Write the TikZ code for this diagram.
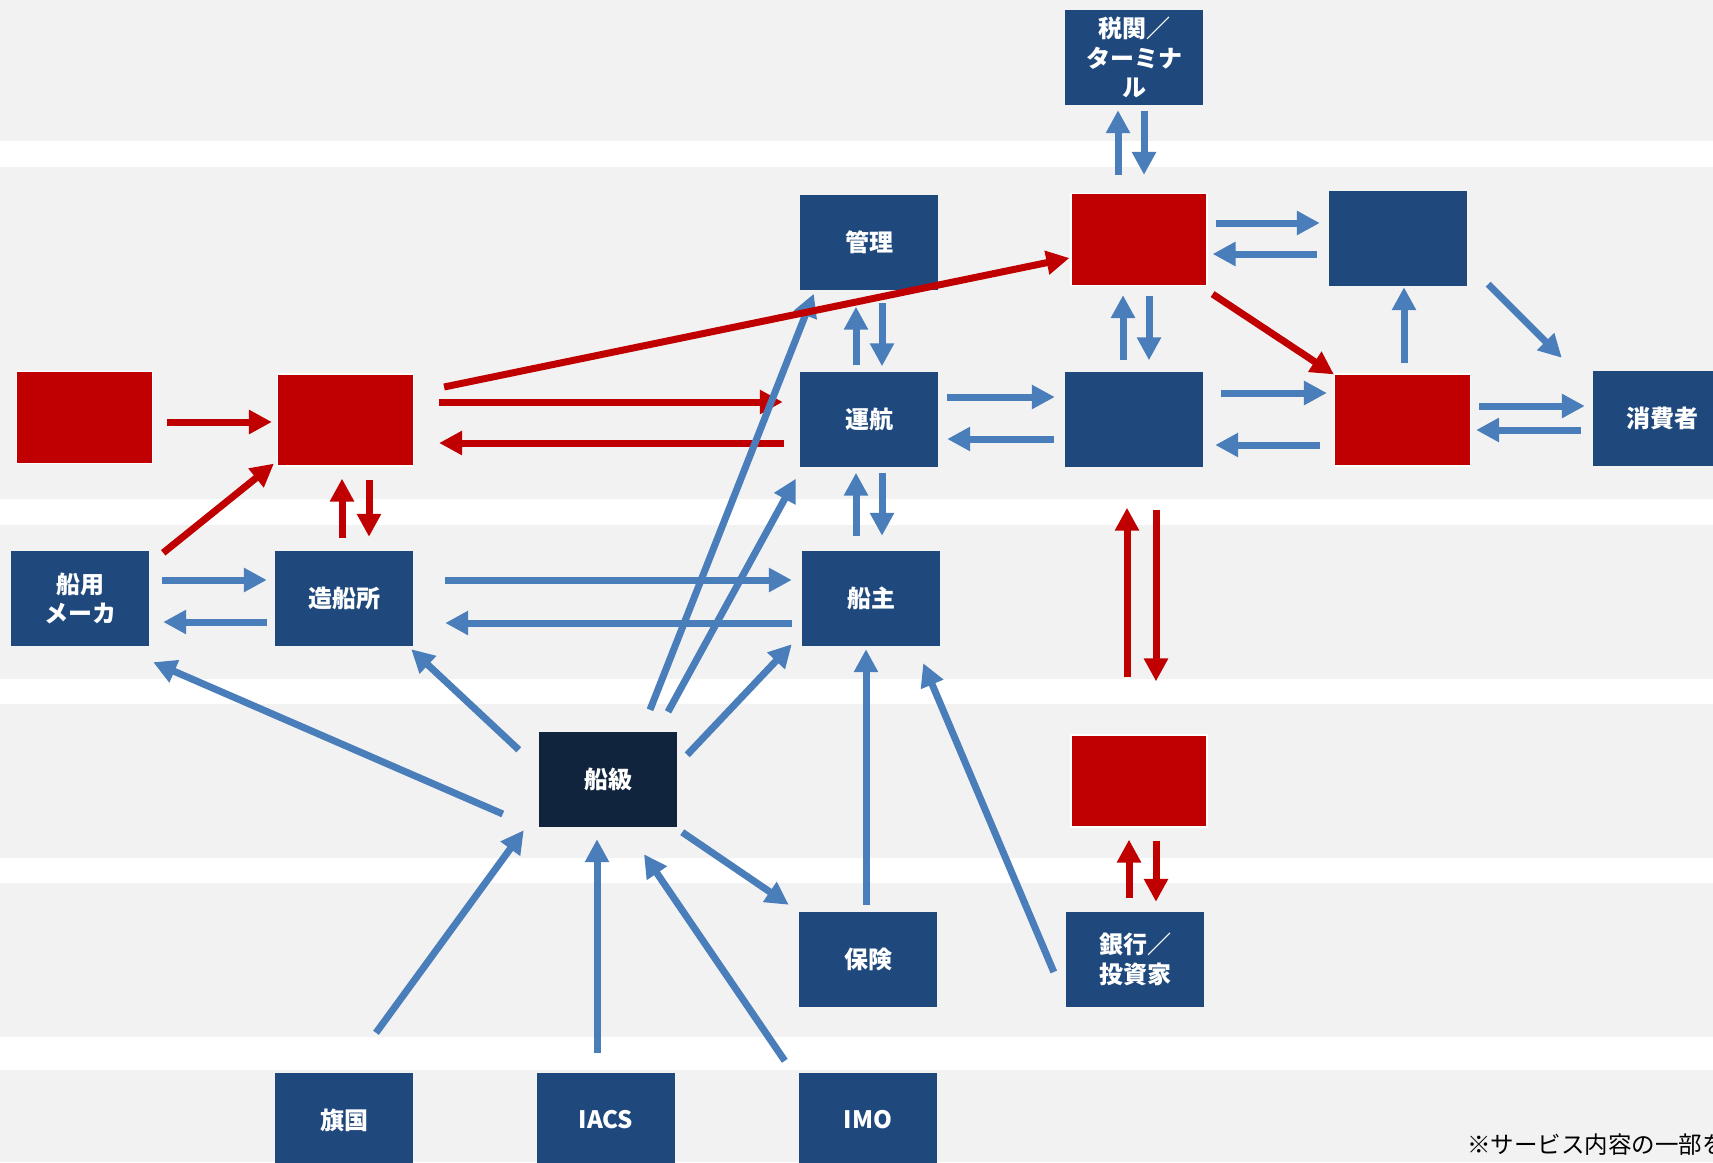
\documentclass[tikz,border=0pt]{standalone}
\usepackage{fontspec}
\newfontfamily\jpfont{Noto Sans CJK JP}
\usetikzlibrary{arrows.meta}
\definecolor{boxblue}{RGB}{31,73,125}
\definecolor{navy}{RGB}{16,36,62}
\definecolor{boxred}{RGB}{192,0,0}
\definecolor{arrblue}{RGB}{74,126,187}
\definecolor{bggray}{RGB}{242,242,242}

\begin{document}
\begin{tikzpicture}[x=1pt,y=-1pt,
    box/.style={fill=boxblue,minimum width=138pt,minimum height=95pt,inner sep=0pt,
      text=white,align=center,font=\jpfont\bfseries\fontsize{24}{29.5}\selectfont},
    redbox/.style={box,fill=boxred,draw=white,line width=1.2pt,minimum width=136pt,minimum height=92pt},
    barr/.style={draw=arrblue,line width=7pt,-{Triangle[width=23pt,length=23pt]}},
    rarr/.style={draw=boxred,line width=7pt,-{Triangle[width=23pt,length=23pt]}}]
  \useasboundingbox (0,0) rectangle (1713,1162);
  \fill[bggray] (0,0) rectangle (1713,1162);
  \foreach \ya/\yb in {141/167,499/525,679/704,858/883,1037/1070}
    \fill[white] (0,\ya) rectangle (1713,\yb);

  \node[box] (kanzei) at (1134,57.5) {税関／\\ターミナ\\ル};
  \node[box] (kanri) at (869,242) {管理};
  \node[box] (unkou) at (869,419) {運航};
  \node[box] (senshu) at (871,598.5) {船主};
  \node[box] (hoken) at (868,959.5) {保険};
  \node[box] (imo) at (868,1120) {IMO};
  \node[box] (iacs) at (606,1120) {IACS};
  \node[box] (kikoku) at (344,1120) {旗国};
  \node[box,fill=navy] (senkyu) at (608,779.5) {船級};
  \node[box] (zousen) at (344,598.5) {造船所};
  \node[box] (hakuyo) at (80,598.5) {船用\\メーカ};
  \node[redbox] (redA) at (84.5,417.5) {};
  \node[redbox] (redB) at (345.5,420) {};
  \node[redbox] (redC) at (1139,239.5) {};
  \node[box] (blueTR) at (1398,238.5) {};
  \node[box] (blueM) at (1134,419) {};
  \node[redbox] (redD) at (1402.5,420) {};
  \node[box] (shouhi) at (1662,418.5) {消費者};
  \node[redbox] (redE) at (1139,781) {};
  \node[box] (ginkou) at (1135,959.5) {銀行／\\投資家};
  \node[anchor=west,inner sep=0pt,font=\jpfont\fontsize{23.5}{28}\selectfont] (note) at (1467,1145) {※サービス内容の一部を};

  \draw[rarr,shorten <=25pt,shorten >=17pt] ([yshift=18pt]redB.east) -- ([yshift=18pt]redB.east -| unkou.west);
  \draw[rarr,shorten <=16pt,shorten >=25pt] ([yshift=-24pt]unkou.west) -- ([yshift=-24pt]unkou.west -| redB.east);

  \draw[barr,shorten <=13pt,shorten >=8pt] ([yshift=18.5pt]hakuyo.east) -- ([yshift=18.5pt]hakuyo.east -| zousen.west);
  \draw[barr,shorten <=8pt,shorten >=14pt] ([yshift=-23.5pt]zousen.west) -- ([yshift=-23.5pt]zousen.west -| hakuyo.east);
  \draw[barr,shorten <=32pt,shorten >=10pt] ([yshift=18.5pt]zousen.east) -- ([yshift=18.5pt]zousen.east -| senshu.west);
  \draw[barr,shorten <=10pt,shorten >=32pt] ([yshift=-24.5pt]senshu.west) -- ([yshift=-24.5pt]senshu.west -| zousen.east);
  \draw[barr,shorten <=9pt,shorten >=10pt] ([yshift=22pt]unkou.east) -- ([yshift=22pt]unkou.east -| blueM.west);
  \draw[barr,shorten <=11pt,shorten >=9pt] ([yshift=-20pt]blueM.west) -- ([yshift=-20pt]blueM.west -| unkou.east);
  \draw[barr,shorten <=18pt,shorten >=7pt] ([yshift=26pt]blueM.east) -- ([yshift=26pt]blueM.east -| redD.west);
  \draw[barr,shorten <=14pt,shorten >=12pt] ([yshift=-25pt]redD.west) -- ([yshift=-25pt]redD.west -| blueM.east);
  \draw[barr,shorten <=8pt,shorten >=8pt] ([yshift=14pt]redD.east) -- ([yshift=14pt]redD.east -| shouhi.west);
  \draw[barr,shorten <=12pt,shorten >=5pt] ([yshift=-11.5pt]shouhi.west) -- ([yshift=-11.5pt]shouhi.west -| redD.east);
  \draw[barr,shorten <=8pt,shorten >=9pt] ([yshift=16.5pt]redC.east) -- ([yshift=16.5pt]redC.east -| blueTR.west);
  \draw[barr,shorten <=12pt,shorten >=5pt] ([yshift=-15.5pt]blueTR.west) -- ([yshift=-15.5pt]blueTR.west -| redC.east);

  \draw[barr,shorten <=18pt,shorten >=5pt] ([xshift=-16pt]kanzei.south |- redC.north) -- ([xshift=-16pt]kanzei.south);
  \draw[barr,shorten <=6pt,shorten >=18pt] ([xshift=10pt]kanzei.south) -- ([xshift=10pt]kanzei.south |- redC.north);
  \draw[barr,shorten <=6pt,shorten >=17pt] ([xshift=-13pt]kanri.south |- unkou.north) -- ([xshift=-13pt]kanri.south);
  \draw[barr,shorten <=13pt,shorten >=5pt] ([xshift=13pt]kanri.south) -- ([xshift=13pt]kanri.south |- unkou.north);
  \draw[barr,shorten <=15pt,shorten >=6pt] ([xshift=-13pt]unkou.south |- senshu.north) -- ([xshift=-13pt]unkou.south);
  \draw[barr,shorten <=6pt,shorten >=15pt] ([xshift=13pt]unkou.south) -- ([xshift=13pt]unkou.south |- senshu.north);
  \draw[barr,shorten <=11pt,shorten >=9pt] ([xshift=-11pt]blueM.north) -- ([xshift=-11pt]blueM.north |- redC.south);
  \draw[barr,shorten <=10pt,shorten >=11pt] ([xshift=15pt]blueM.north |- redC.south) -- ([xshift=15pt]blueM.north);
  \draw[barr,shorten <=10pt,shorten >=1pt] ([xshift=1.5pt]redD.north) -- ([xshift=1.5pt]redD.north |- blueTR.south);
  \draw[barr,shorten <=7pt,shorten >=3pt] ([xshift=-2pt]hoken.north) -- ([xshift=-2pt]hoken.north |- senshu.south);
  \draw[barr,shorten <=19.5pt,shorten >=12pt] ([xshift=-9pt]iacs.north) -- ([xshift=-9pt]iacs.north |- senkyu.south);

  \draw[barr] ([xshift=21pt,yshift=2pt]blueTR.south east) -- ([xshift=-31pt,yshift=13pt]shouhi.north west);
  \draw[barr] ([xshift=-20pt,yshift=-18pt]senkyu.north west) -- ([xshift=-2pt,yshift=-3pt]zousen.south east);
  \draw[barr] ([xshift=-36pt,yshift=-34.5pt]senkyu.west) -- ([xshift=4pt,yshift=-16pt]hakuyo.south east);
  \draw[barr] ([xshift=10pt,yshift=-23pt]senkyu.north east) -- ([xshift=-10pt,yshift=2pt]senshu.south west);
  \draw[barr] ([xshift=42pt,yshift=22pt]senkyu.north) -- ([xshift=14pt,yshift=-4pt]kanri.south west);
  \draw[barr] ([xshift=60pt,yshift=20pt]senkyu.north) -- ([xshift=-4pt,yshift=-12pt]unkou.south west);
  \draw[barr] ([xshift=5pt,yshift=-5pt]senkyu.south east) -- ([xshift=-10pt,yshift=7pt]hoken.north west);
  \draw[barr] ([xshift=32pt,yshift=39.5pt]kikoku.north) -- ([xshift=-15pt,yshift=-3pt]senkyu.south west);
  \draw[barr] ([xshift=-14pt,yshift=11.5pt]imo.north west) -- ([xshift=36pt,yshift=-27pt]senkyu.south);
  \draw[barr] ([xshift=-12pt,yshift=-12.5pt]ginkou.west) -- ([xshift=-17pt,yshift=-17pt]senshu.south east);

  \draw[rarr,shorten <=14pt,shorten >=5pt] ([yshift=-4.5pt]redA.east) -- ([yshift=-4.5pt]redA.east -| redB.west);
  \draw[rarr,shorten <=13pt,shorten >=12pt] ([xshift=-2pt]zousen.north) -- ([xshift=-2pt]zousen.north |- redB.south);
  \draw[rarr,shorten <=13pt,shorten >=14pt] ([xshift=25pt]zousen.north |- redB.south) -- ([xshift=25pt]zousen.north);
  \draw[rarr,shorten <=57pt,shorten >=41pt] ([xshift=-7pt]blueM.south |- redE.north) -- ([xshift=-7pt]blueM.south);
  \draw[rarr,shorten <=43pt,shorten >=53pt] ([xshift=22pt]blueM.south) -- ([xshift=22pt]blueM.south |- redE.north);
  \draw[rarr,shorten <=14pt,shorten >=12pt] ([xshift=-6pt]ginkou.north) -- ([xshift=-6pt]ginkou.north |- redE.south);
  \draw[rarr,shorten <=13pt,shorten >=10pt] ([xshift=21pt]ginkou.north |- redE.south) -- ([xshift=21pt]ginkou.north);
  \draw[rarr] ([xshift=14pt,yshift=-2pt]hakuyo.north east) -- ([xshift=-3pt,yshift=3pt]redB.south west);
  \draw[rarr] ([xshift=30pt,yshift=33pt]redB.east) -- ([xshift=-1pt,yshift=-18.5pt]redC.west);
  \draw[rarr] ([xshift=5pt,yshift=-8pt]redC.south east) -- ([yshift=-1pt]redD.north west);
\end{tikzpicture}
\end{document}
